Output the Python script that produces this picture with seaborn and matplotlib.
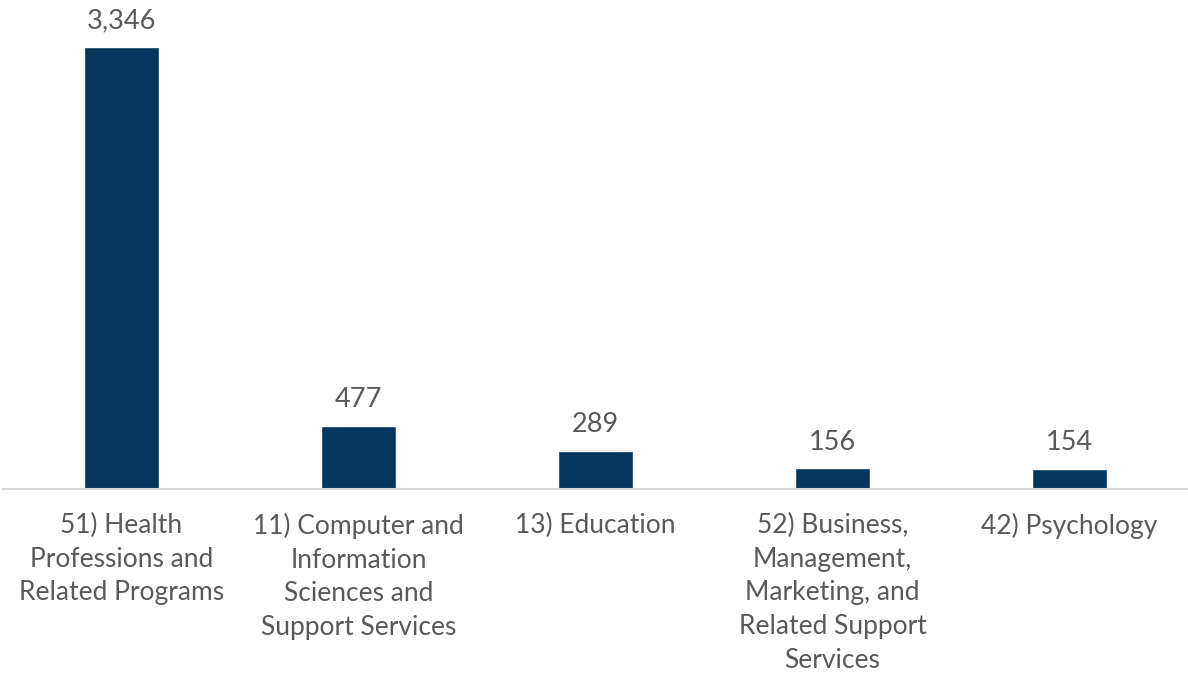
import matplotlib
matplotlib.use("Agg")
import matplotlib.pyplot as plt
import seaborn as sns
import pandas as pd

categories = [
    "51) Health\nProfessions and\nRelated Programs",
    "11) Computer and\nInformation\nSciences and\nSupport Services",
    "13) Education",
    "52) Business,\nManagement,\nMarketing, and\nRelated Support\nServices",
    "42) Psychology",
]
counts = [3346, 477, 289, 156, 154]

BAR = "#03375F"
TEXT = "#595959"

sns.set_theme(style="white")
plt.rcParams["font.family"] = ["Lato", "DejaVu Sans"]

df = pd.DataFrame({"program": categories, "count": counts})

fig = plt.figure(figsize=(11.88, 6.73), dpi=100)
ax = fig.add_axes([3 / 1188, (673 - 489) / 673, 1185 / 1188, 489 / 673])

sns.barplot(data=df, x="program", y="count", color=BAR, width=0.32,
            saturation=1, ax=ax)

ax.set_ylim(0, 3702)
ax.set_xlim(-0.5, len(categories) - 0.5)
ax.set_xlabel("")
ax.set_ylabel("")
ax.set_yticks([])
for side in ("left", "right", "top"):
    ax.spines[side].set_visible(False)
ax.spines["bottom"].set_color("#D9D9D9")
ax.spines["bottom"].set_linewidth(1.5)
ax.tick_params(axis="x", length=0, pad=17, labelsize=19, labelcolor=TEXT)
for lbl in ax.get_xticklabels():
    lbl.set_linespacing(1.44)
    lbl.set_va("top")

for i, v in enumerate(counts):
    ax.annotate(f"{v:,}", (i, v), xytext=(0, 10), textcoords="offset points",
                ha="center", va="bottom", fontsize=19.5, color=TEXT)

fig.savefig("out.png", dpi=100)
